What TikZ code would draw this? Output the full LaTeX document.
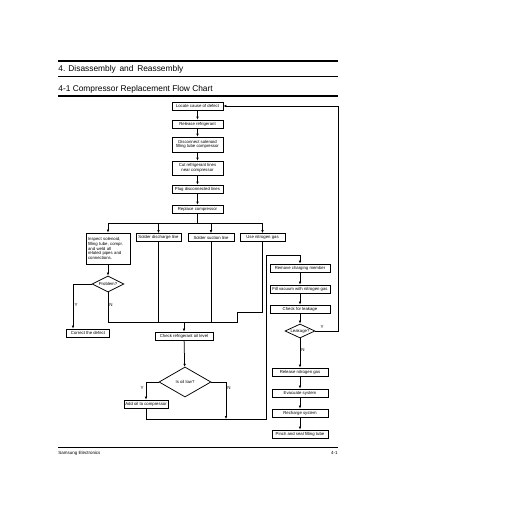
\documentclass[tikz,border=0pt]{standalone}
\usepackage{fontspec}
\setmainfont{Liberation Sans}
\usepackage{tikz}
\usetikzlibrary{arrows.meta,shapes.geometric}
\tikzset{
  fbox/.style={draw,line width=0.75bp,inner sep=0.8bp,align=center,
    font=\fontsize{4.3}{4.6}\selectfont,minimum height=8bp},
  decide/.style={diamond,draw,line width=0.75bp,inner sep=0pt,aspect=2,
    font=\fontsize{4.3}{4.6}\selectfont},
  yn/.style={font=\fontsize{4.5}{5}\selectfont},
  head/.style={anchor=west,inner sep=0pt,font=\fontsize{8.4}{9}\selectfont}
}
\begin{document}
\begin{tikzpicture}[x=1bp,y=-1bp,>={Latex[length=3bp,width=2.6bp]},line width=0.75bp]
\useasboundingbox (0,0) rectangle (519,506);
\draw[line width=2bp](58,61)--(338,61);
\draw[line width=0.6bp](58,76)--(338,76);
\draw[line width=1.6bp](58,96)--(338,96);
\draw[line width=0.9bp](58,447)--(338,447);
\node[head] (t1) at (58,69) {4. Disassembly \,and \,Reassembly};
\node[head] (t2) at (58,89) {4-1 Compressor Replacement Flow Chart};
\node[anchor=west,inner sep=0pt,font=\fontsize{4.5}{5}\selectfont] (ft) at (58,453) {Samsung Electronics};
\node[anchor=east,inner sep=0pt,font=\fontsize{4.5}{5}\selectfont] (pg) at (338,453) {4-1};

\node[fbox,minimum width=51bp] (b1) at (197.5,106) {Locate cause of defect};
\node[fbox,minimum width=51bp] (b2) at (197.5,124) {Release refrigerant};
\node[fbox,minimum width=51bp,minimum height=15bp] (b3) at (197.5,144.5) {Disconnect solenoid\\filling tube compressor};
\node[fbox,minimum width=51bp,minimum height=14bp] (b4) at (197.5,168) {Cut refrigerant lines\\near compressor};
\node[fbox,minimum width=51bp] (b5) at (197.5,189) {Plug disconnected lines};
\node[fbox,minimum width=51bp] (b6) at (197.5,209) {Replace compressor};

\node[fbox,minimum width=44bp,minimum height=31bp,align=left,text width=40bp] (insp) at (108,248.5) {Inspect solenoid,\\filling tube, compr.\\and weld all\\related pipes and\\connections.};
\node[fbox,minimum width=45bp] (sdis) at (158.5,237.5) {Solder discharge line};
\node[fbox,minimum width=46bp] (ssuc) at (211,237.5) {Solder suction line};
\node[fbox,minimum width=45bp] (nitro) at (262.5,237.5) {Use nitrogen gas};

\node[decide,minimum width=32bp,minimum height=16bp] (prob) at (108,284) {Problem?};
\node[fbox,minimum width=43bp] (corr) at (88,333) {Correct the defect};
\node[fbox,minimum width=58bp] (chk) at (184,336) {Check refrigerant oil level};
\node[decide,minimum width=52bp,minimum height=30bp] (oil) at (185,382) {Is oil low?};
\node[fbox,minimum width=44bp] (add) at (146,404) {Add oil to compressor};

\node[fbox,minimum width=60bp] (rem) at (300,268) {Remove charging member};
\node[fbox,minimum width=60bp] (fill) at (300,289) {Fill vacuum with nitrogen gas};
\node[fbox,minimum width=60bp] (lchk) at (300,309) {Check for leakage};
\node[decide,minimum width=30bp,minimum height=14bp] (leak) at (300,331) {Leakage?};
\node[fbox,minimum width=56bp] (rel) at (300,372) {Release nitrogen gas};
\node[fbox,minimum width=56bp] (evac) at (300,393) {Evacuate system};
\node[fbox,minimum width=56bp] (rech) at (300,413) {Recharge system};
\node[fbox,minimum width=56bp] (pinch) at (300,434) {Pinch and seal filling tube};

\coordinate (br) at (197.5,223);
\coordinate (ycor) at (73,284);
\coordinate (mL) at (108,322);
\coordinate (mR) at (237,322);
\coordinate (n1) at (237,312);
\coordinate (lp1) at (226,419);
\coordinate (lp2) at (266,419);
\coordinate (lp3) at (266,255);
\coordinate (ly1) at (338,331);
\coordinate (ly2) at (338,106);

\draw[->](b1)--(b2);
\draw[->](b2)--(b3);
\draw[->](b3)--(b4);
\draw[->](b4)--(b5);
\draw[->](b5)--(b6);
\draw(b6)--(br);
\draw(br-|insp)--(br-|nitro);
\draw[->](br-|insp)--(insp);
\draw[->](br-|sdis)--(sdis);
\draw[->](br-|ssuc)--(ssuc);
\draw[->](br-|nitro)--(nitro);
\draw[->](insp)--(prob);
\draw[->](prob.west)--(ycor)--(ycor|-corr.north);
\draw(prob)--(mL)--(mR)--(n1)--(nitro|-n1)--(nitro);
\draw(sdis)--(sdis|-mL);
\draw(ssuc)--(ssuc|-mL);
\draw[->](mR-|chk)--(chk);
\draw[->](chk)--(oil);
\draw[->](oil.west)-|(add.north);
\draw[->](oil.east)-|(lp1);
\draw(add)--(add|-lp1)--(lp2)--(lp3);
\draw[->](lp3)-|(rem.north);
\draw[->](rem)--(fill);
\draw[->](fill)--(lchk);
\draw[->](lchk)--(leak);
\draw[->](leak)--(rel);
\draw[->](leak.east)--(ly1)--(ly2)--(b1.east);
\draw[->](rel)--(evac);
\draw[->](evac)--(rech);
\draw[->](rech)--(pinch);

\node[yn] (y1) at (76,305) {Y};
\node[yn] (n2) at (111,305) {N};
\node[yn] (y2) at (142,388) {Y};
\node[yn] (n3) at (229,388) {N};
\node[yn] (y3) at (322,327) {Y};
\node[yn] (n4) at (303,350) {N};
\end{tikzpicture}
\end{document}
